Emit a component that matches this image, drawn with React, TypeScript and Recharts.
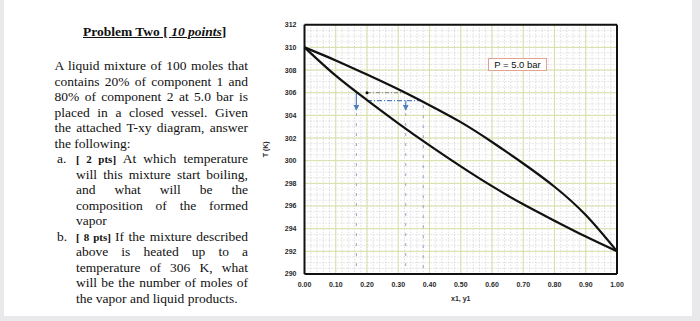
import React from 'react';
import {
  ComposedChart,
  Line,
  XAxis,
  YAxis,
  CartesianGrid,
  ReferenceLine,
  ReferenceDot,
} from 'recharts';

// composition of component 1 (x1 for the liquid, y1 for the vapour)
const compositions = [0, 0.1, 0.2, 0.3, 0.4, 0.5, 0.6, 0.7, 0.8, 0.9, 1.0];
// bubble-point curve T(x1), K
const bubbleT = [310, 307.5, 305.35, 303.3, 301.35, 299.5, 297.75, 296.15, 294.7, 293.3, 292.0];
// dew-point curve T(y1), K
const dewT = [310, 308.85, 307.6, 306.3, 304.9, 303.4, 301.65, 299.75, 297.7, 295.2, 292.0];

const xTicks = [0, 0.1, 0.2, 0.3, 0.4, 0.5, 0.6, 0.7, 0.8, 0.9, 1.0];
const yTicks = [290, 292, 294, 296, 298, 300, 302, 304, 306, 308, 310, 312];

// hand-drawn construction on the diagram
const feedPoint = { x: 0.2, t: 306 };
const tieAt306 = [0.2, 0.324]; // x range of the upper tie line at 306 K
const bubbleTie = { t: 305.3, from: 0.2, to: 0.38 };
const arrowXs = [0.166, 0.324];
const arrowTop = [306, 305.3];
const arrowBottom = 304.5;
const dropXs = [0.166, 0.324, 0.38];
const dropTop = [304.2, 304.2, 304.9];

const rows = compositions.map((x, i) => ({ x, bubble: bubbleT[i], dew: dewT[i] }));

const minorX = Array.from({ length: 51 }, (_, i) => i * 0.02);
const minorY = Array.from({ length: 45 }, (_, i) => 290 + i * 0.5);

const textLines: { text: string; indent: boolean; justify: boolean; label?: string; tag?: string }[] = [
  { text: 'A liquid mixture of 100 moles that', indent: false, justify: true },
  { text: 'contains 20% of component 1 and', indent: false, justify: true },
  { text: '80% of component 2 at 5.0 bar is', indent: false, justify: true },
  { text: 'placed in a closed vessel.  Given', indent: false, justify: true },
  { text: 'the attached T-xy diagram, answer', indent: false, justify: true },
  { text: 'the following:', indent: false, justify: false },
  { text: 'At which temperature', indent: true, justify: true, label: 'a.', tag: '[ 2 pts]' },
  { text: 'will this mixture start boiling,', indent: true, justify: true },
  { text: 'and what will be the', indent: true, justify: true },
  { text: 'composition of the formed', indent: true, justify: true },
  { text: 'vapor', indent: true, justify: false },
  { text: 'If the mixture described', indent: true, justify: true, label: 'b.', tag: '[ 8 pts]' },
  { text: 'above is heated up to a', indent: true, justify: true },
  { text: 'temperature of 306 K, what', indent: true, justify: true },
  { text: 'will be the number of moles of', indent: true, justify: true },
  { text: 'the vapor and liquid products.', indent: true, justify: false },
];

const tickStyle = {
  fontSize: 7,
  fill: '#2a2a2a',
  fontWeight: 600,
  fontFamily: '"Liberation Sans", Arial, sans-serif',
};
const guideBlue = '#4f7fc0';

export default function App() {
  return (
    <div
      style={{
        position: 'absolute',
        left: 0,
        top: 0,
        width: 700,
        height: 321,
        background: '#fff',
        overflow: 'hidden',
        fontFamily: '"Liberation Serif", "Times New Roman", serif',
        color: '#111',
      }}
    >
      <svg width={0} height={0} style={{ position: 'absolute' }}>
        <defs>
          <marker
            id="arrowBlue"
            markerWidth={6}
            markerHeight={6}
            refX={5}
            refY={3}
            orient="auto"
            markerUnits="userSpaceOnUse"
          >
            <path d="M0,0 L6,3 L0,6 Z" fill={guideBlue} />
          </marker>
        </defs>
      </svg>

      {/* photo edges */}
      <div style={{ position: 'absolute', left: 0, top: 0, width: 4, height: 321, background: '#e9e9ec' }} />
      <div style={{ position: 'absolute', left: 692, top: 0, width: 8, height: 321, background: '#e9e9ec' }} />
      <div style={{ position: 'absolute', left: 0, top: 316, width: 700, height: 5, background: '#e9e9ec' }} />

      <div
        style={{
          position: 'absolute',
          left: 83,
          top: 24,
          fontSize: 13.5,
          lineHeight: '15.5px',
          fontWeight: 'bold',
          textDecoration: 'underline',
          whiteSpace: 'nowrap',
        }}
      >
        Problem Two [ <i>10 points</i>]
      </div>

      {textLines.map((l, i) => (
        <React.Fragment key={i}>
          {l.label && (
            <div
              style={{
                position: 'absolute',
                left: 57,
                top: 58.25 + i * 15.5,
                fontSize: 13.5,
                lineHeight: '15.5px',
              }}
            >
              {l.label}
            </div>
          )}
          <div
            style={{
              position: 'absolute',
              left: l.indent ? 76 : 54.5,
              top: 58.25 + i * 15.5,
              width: l.indent ? 172 : 193.5,
              fontSize: 13.5,
              lineHeight: '15.5px',
              textAlign: 'justify',
              textAlignLast: l.justify ? 'justify' : 'left',
              whiteSpace: 'nowrap',
            }}
          >
            {l.tag && <b style={{ fontSize: 11 }}>{l.tag} </b>}
            {l.text}
          </div>
        </React.Fragment>
      ))}

      <div
        style={{
          position: 'absolute',
          left: 488,
          top: 58,
          width: 57,
          height: 11,
          border: '1.5px solid #e4a390',
          background: '#fff',
          fontFamily: '"Liberation Sans", Arial, sans-serif',
          fontSize: 9.5,
          lineHeight: '11px',
          textAlign: 'center',
          zIndex: 2,
        }}
      >
        P = 5.0 bar
      </div>

      <div style={{ position: 'absolute', left: 250, top: 14 }}>
        <ComposedChart
          width={400}
          height={290}
          data={rows}
          margin={{ top: 10.7, right: 33, bottom: 0, left: 0 }}
        >
          <CartesianGrid
            verticalValues={minorX}
            horizontalValues={minorY}
            stroke="#cdcdcd"
            strokeDasharray="1 2"
          />
          <CartesianGrid
            verticalValues={xTicks}
            horizontalValues={yTicks}
            stroke="#dadfa8"
          />
          <XAxis
            type="number"
            dataKey="x"
            domain={[0, 1]}
            ticks={xTicks}
            tickFormatter={(v: number) => v.toFixed(2)}
            tick={tickStyle}
            tickLine={false}
            axisLine={{ stroke: '#111', strokeWidth: 2 }}
            height={30}
            interval={0}
            label={{
              value: 'x1, y1',
              position: 'insideBottom',
              offset: 3,
              style: { ...tickStyle, fontWeight: 'bold' },
            }}
          />
          <YAxis
            type="number"
            domain={[290, 312]}
            ticks={yTicks}
            tick={tickStyle}
            tickLine={false}
            axisLine={{ stroke: '#111', strokeWidth: 2 }}
            width={54.5}
            interval={0}
            label={{
              value: 'T (K)',
              angle: -90,
              position: 'insideLeft',
              offset: 16,
              style: { ...tickStyle, fontWeight: 'bold', textAnchor: 'middle' },
            }}
          />
          <ReferenceLine y={312} stroke="#111" strokeWidth={2} />
          <ReferenceLine x={1} stroke="#111" strokeWidth={2} />

          {dropXs.map((x, i) => (
            <ReferenceLine
              key={'d' + i}
              segment={[
                { x, y: dropTop[i] },
                { x, y: 290 },
              ]}
              stroke="#8ea6c8"
              strokeWidth={1}
              strokeDasharray="3 7"
            />
          ))}
          <ReferenceLine
            segment={[
              { x: tieAt306[0], y: feedPoint.t },
              { x: tieAt306[1], y: feedPoint.t },
            ]}
            stroke="#7d8796"
            strokeWidth={1}
            strokeDasharray="4 2 1 2"
          />
          <ReferenceLine
            segment={[
              { x: bubbleTie.from, y: bubbleTie.t },
              { x: bubbleTie.to, y: bubbleTie.t },
            ]}
            stroke={guideBlue}
            strokeWidth={1.2}
            strokeDasharray="5 2 1 2"
          />
          {arrowXs.map((x, i) => (
            <ReferenceLine
              key={'a' + i}
              segment={[
                { x, y: arrowTop[i] },
                { x, y: arrowBottom },
              ]}
              stroke={guideBlue}
              strokeWidth={1.2}
              markerEnd="url(#arrowBlue)"
            />
          ))}

          <Line
            type="natural"
            dataKey="dew"
            stroke="#111"
            strokeWidth={2.2}
            dot={false}
            isAnimationActive={false}
          />
          <Line
            type="natural"
            dataKey="bubble"
            stroke="#111"
            strokeWidth={2.2}
            dot={false}
            isAnimationActive={false}
          />
          <ReferenceDot x={feedPoint.x} y={feedPoint.t} r={1.5} fill="#111" stroke="none" />
        </ComposedChart>
      </div>
    </div>
  );
}
